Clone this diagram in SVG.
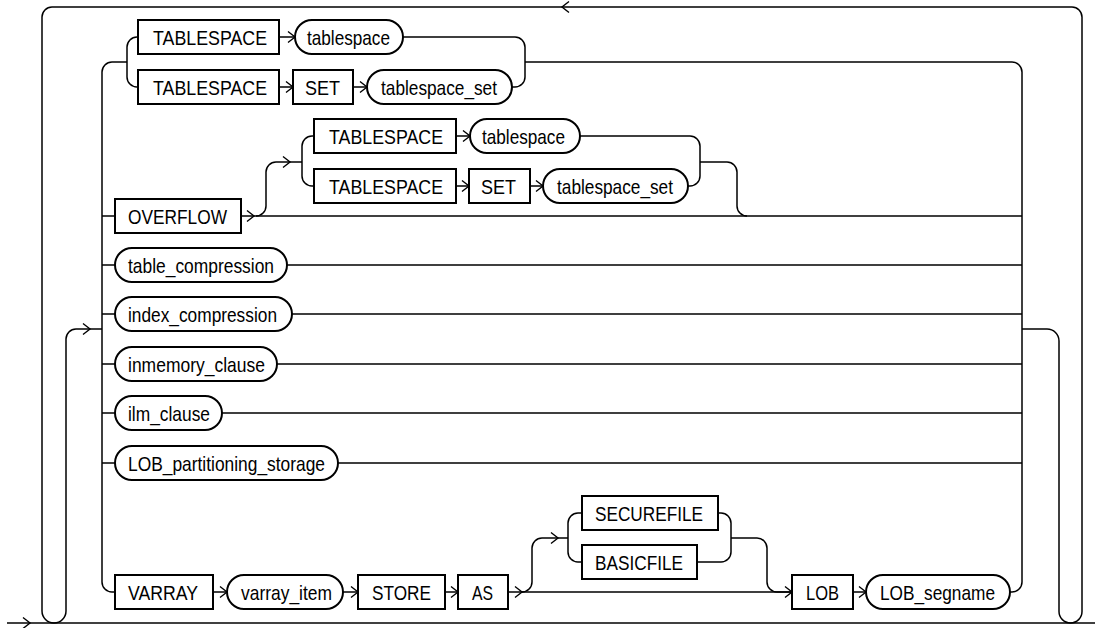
<svg xmlns="http://www.w3.org/2000/svg" xmlns:xlink="http://www.w3.org/1999/xlink" width="1100" height="628" viewBox="0 0 1100 628">
<defs>
<style>
.b{fill:#fff;stroke:#000;stroke-width:2}
.l{fill:none;stroke:#000;stroke-width:1.5}
.a{fill:none;stroke:#000;stroke-width:1.4}
text{font-family:"Liberation Sans",Arial,sans-serif;font-size:21px;fill:#000}
</style>
<path id="ar" d="M-7,-5.5 L0,0 L-7,5.5"/>
</defs>
<rect width="1100" height="628" fill="#fff"/>
<g id="connectors">
<path class="l" d="M7,623 H1095"/>
<path class="l" d="M102,329 H76 A10,10 0 0 0 66,339 V611 A12,12 0 0 1 54,623 A12,12 0 0 1 42,611 V17 A10,10 0 0 1 52,7 H1072 A10,10 0 0 1 1082,17 V611.5 A11.5,11.5 0 0 1 1070.5,623 A11.5,11.5 0 0 1 1059,611.5 V341 A12,12 0 0 0 1047,329 H1022"/>
<path class="l" d="M112,62 A10,10 0 0 0 102,72 V582 A10,10 0 0 0 112,592 H115"/>
<path class="l" d="M102,216 H115 M102,265 H115 M102,314 H115 M102,364 H115 M102,413 H115 M102,463 H115"/>
<path class="l" d="M112,62 H127 M138,37 H137 A10,10 0 0 0 127,47 V77 A10,10 0 0 0 137,87 H138"/>
<path class="l" d="M279,37 H295 M279,87 H293 M353,87 H367"/>
<path class="l" d="M403,37 H515 A10,10 0 0 1 525,47 V77 A10,10 0 0 1 515,87 H512"/>
<path class="l" d="M525,62 H1012 A10,10 0 0 1 1022,72 V582 A10,10 0 0 1 1012,592 H1010"/>
<path class="l" d="M241,216 H1022"/>
<path class="l" d="M256,216 A10,10 0 0 0 266,206 V172 A10,10 0 0 1 276,162 H302"/>
<path class="l" d="M314,136 H312 A10,10 0 0 0 302,146 V176 A10,10 0 0 0 312,186 H314"/>
<path class="l" d="M456,136 H470 M456,186 H469 M530,186 H543"/>
<path class="l" d="M580,136 H690 A10,10 0 0 1 700,146 V176 A10,10 0 0 1 690,186 H688"/>
<path class="l" d="M700,162 H727 A10,10 0 0 1 737,172 V206 A10,10 0 0 0 747,216"/>
<path class="l" d="M287,265 H1022 M292,314 H1022 M277,364 H1022 M222,413 H1022 M338,463 H1022"/>
<path class="l" d="M213,592 H227 M343,592 H358 M445,592 H458 M508,592 H792 M853,592 H866"/>
<path class="l" d="M522,592 A10,10 0 0 0 532,582 V548 A10,10 0 0 1 542,538 H568"/>
<path class="l" d="M582,513 H578 A10,10 0 0 0 568,523 V552 A10,10 0 0 0 578,562 H582"/>
<path class="l" d="M718,513 H721 A10,10 0 0 1 731,523 V552 A10,10 0 0 1 721,562 H697"/>
<path class="l" d="M731,538 H757 A10,10 0 0 1 767,548 V582 A10,10 0 0 0 777,592 H792"/>
<g class="a">
<use xlink:href="#ar" href="#ar" transform="translate(30,623)"/>
<use xlink:href="#ar" href="#ar" transform="translate(90,329)"/>
<use xlink:href="#ar" href="#ar" transform="translate(562,7) scale(-1,1)"/>
<use xlink:href="#ar" href="#ar" transform="translate(295,37)"/>
<use xlink:href="#ar" href="#ar" transform="translate(293,87)"/>
<use xlink:href="#ar" href="#ar" transform="translate(367,87)"/>
<use xlink:href="#ar" href="#ar" transform="translate(254,216)"/>
<use xlink:href="#ar" href="#ar" transform="translate(290,162)"/>
<use xlink:href="#ar" href="#ar" transform="translate(470,136)"/>
<use xlink:href="#ar" href="#ar" transform="translate(469,186)"/>
<use xlink:href="#ar" href="#ar" transform="translate(543,186)"/>
<use xlink:href="#ar" href="#ar" transform="translate(227,592)"/>
<use xlink:href="#ar" href="#ar" transform="translate(358,592)"/>
<use xlink:href="#ar" href="#ar" transform="translate(458,592)"/>
<use xlink:href="#ar" href="#ar" transform="translate(522,592)"/>
<use xlink:href="#ar" href="#ar" transform="translate(558,538)"/>
<use xlink:href="#ar" href="#ar" transform="translate(792,592)"/>
<use xlink:href="#ar" href="#ar" transform="translate(866,592)"/>
</g>
</g>
<g id="n1"><rect class="b" x="138" y="20" width="141" height="34"/><text x="153" y="44.5" textLength="114" lengthAdjust="spacingAndGlyphs">TABLESPACE</text></g>
<g id="n2"><rect class="b" x="295" y="20" width="108" height="34" rx="17"/><text x="307" y="44.5" textLength="83" lengthAdjust="spacingAndGlyphs">tablespace</text></g>
<g id="n3"><rect class="b" x="138" y="70" width="141" height="34"/><text x="153" y="94.5" textLength="114" lengthAdjust="spacingAndGlyphs">TABLESPACE</text></g>
<g id="n4"><rect class="b" x="293" y="70" width="60" height="34"/><text x="305" y="94.5" textLength="35" lengthAdjust="spacingAndGlyphs">SET</text></g>
<g id="n5"><rect class="b" x="367" y="70" width="145" height="34" rx="17"/><text x="381" y="94.5" textLength="116" lengthAdjust="spacingAndGlyphs">tablespace_set</text></g>
<g id="n6"><rect class="b" x="115" y="199" width="126" height="34"/><text x="128" y="223.5" textLength="99" lengthAdjust="spacingAndGlyphs">OVERFLOW</text></g>
<g id="n7"><rect class="b" x="314" y="119" width="142" height="34"/><text x="329" y="143.5" textLength="114" lengthAdjust="spacingAndGlyphs">TABLESPACE</text></g>
<g id="n8"><rect class="b" x="470" y="119" width="110" height="34" rx="17"/><text x="482" y="143.5" textLength="83" lengthAdjust="spacingAndGlyphs">tablespace</text></g>
<g id="n9"><rect class="b" x="314" y="169" width="142" height="34"/><text x="329" y="193.5" textLength="114" lengthAdjust="spacingAndGlyphs">TABLESPACE</text></g>
<g id="n10"><rect class="b" x="469" y="169" width="61" height="34"/><text x="481" y="193.5" textLength="35" lengthAdjust="spacingAndGlyphs">SET</text></g>
<g id="n11"><rect class="b" x="543" y="169" width="145" height="34" rx="17"/><text x="557" y="193.5" textLength="116" lengthAdjust="spacingAndGlyphs">tablespace_set</text></g>
<g id="n12"><rect class="b" x="115" y="248" width="172" height="34" rx="17"/><text x="128" y="272.5" textLength="146" lengthAdjust="spacingAndGlyphs">table_compression</text></g>
<g id="n13"><rect class="b" x="115" y="297" width="177" height="34" rx="17"/><text x="128" y="321.5" textLength="149" lengthAdjust="spacingAndGlyphs">index_compression</text></g>
<g id="n14"><rect class="b" x="115" y="347" width="162" height="34" rx="17"/><text x="128" y="371.5" textLength="137" lengthAdjust="spacingAndGlyphs">inmemory_clause</text></g>
<g id="n15"><rect class="b" x="115" y="396" width="107" height="34" rx="17"/><text x="128" y="420.5" textLength="82" lengthAdjust="spacingAndGlyphs">ilm_clause</text></g>
<g id="n16"><rect class="b" x="115" y="446" width="223" height="34" rx="17"/><text x="128" y="470.5" textLength="197" lengthAdjust="spacingAndGlyphs">LOB_partitioning_storage</text></g>
<g id="n17"><rect class="b" x="115" y="575" width="98" height="34"/><text x="128" y="599.5" textLength="70" lengthAdjust="spacingAndGlyphs">VARRAY</text></g>
<g id="n18"><rect class="b" x="227" y="575" width="116" height="34" rx="17"/><text x="241" y="599.5" textLength="91" lengthAdjust="spacingAndGlyphs">varray_item</text></g>
<g id="n19"><rect class="b" x="358" y="575" width="87" height="34"/><text x="372" y="599.5" textLength="59" lengthAdjust="spacingAndGlyphs">STORE</text></g>
<g id="n20"><rect class="b" x="458" y="575" width="50" height="34"/><text x="472" y="599.5" textLength="21" lengthAdjust="spacingAndGlyphs">AS</text></g>
<g id="n21"><rect class="b" x="582" y="496" width="136" height="34"/><text x="595" y="520.5" textLength="108" lengthAdjust="spacingAndGlyphs">SECUREFILE</text></g>
<g id="n22"><rect class="b" x="582" y="545" width="115" height="34"/><text x="595" y="569.5" textLength="88" lengthAdjust="spacingAndGlyphs">BASICFILE</text></g>
<g id="n23"><rect class="b" x="792" y="575" width="61" height="34"/><text x="806" y="599.5" textLength="33" lengthAdjust="spacingAndGlyphs">LOB</text></g>
<g id="n24"><rect class="b" x="866" y="575" width="144" height="34" rx="17"/><text x="880" y="599.5" textLength="115" lengthAdjust="spacingAndGlyphs">LOB_segname</text></g>
</svg>
